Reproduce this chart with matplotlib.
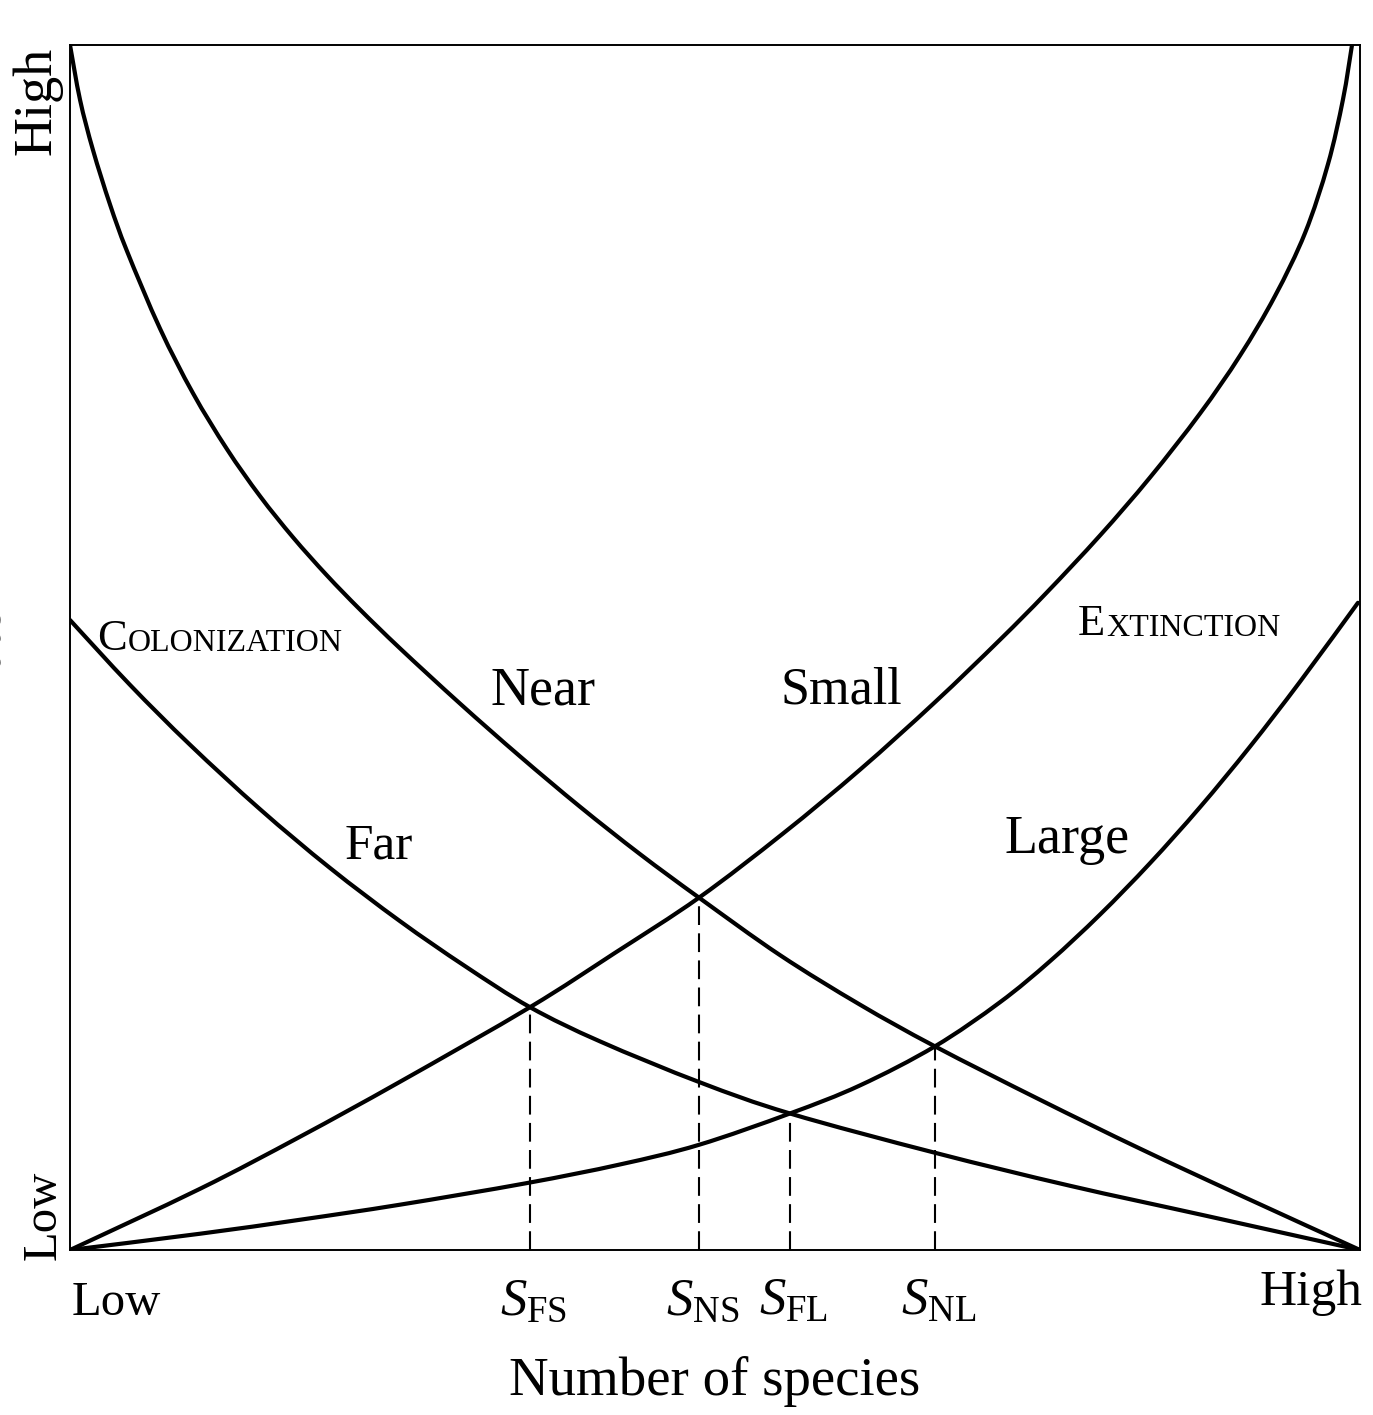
import matplotlib
matplotlib.use("Agg")
import matplotlib.pyplot as plt
from matplotlib.path import Path
from matplotlib.patches import PathPatch
import numpy as np

plt.rcParams['font.family'] = ['Liberation Serif', 'DejaVu Serif']
plt.rcParams['mathtext.fontset'] = 'custom'
plt.rcParams['mathtext.rm'] = 'Liberation Serif'
plt.rcParams['mathtext.it'] = 'Liberation Serif:italic'
plt.rcParams['mathtext.bf'] = 'Liberation Serif:bold'

# ---------------- data (x: number of species 0..100, y: rate 0..100) ----------------
near_x = [0, 0.78, 1.78, 3.10, 4.42, 6.98, 9.53, 12.17, 14.73, 17.29, 19.92, 22.48, 25.58,
          30.23, 34.88, 39.53, 44.19, 48.76, 55.04, 61.24, 67.05, 75.19, 82.95, 90.70, 100]
near_y = [100, 95.44, 91.29, 86.77, 82.89, 76.46, 71.11, 66.46, 62.56, 59.14, 55.98, 53.15, 49.93,
          45.35, 40.97, 36.79, 32.85, 29.24, 24.47, 20.36, 16.90, 12.47, 8.41, 4.55, 0]

far_x = [0, 4.65, 9.30, 14.73, 20.16, 25.58, 30.62, 35.66, 41.09, 48.84, 55.81, 67.05, 77.52, 87.98, 100]
far_y = [52.28, 46.90, 41.93, 36.58, 31.70, 27.29, 23.56, 20.15, 17.31, 13.91, 11.33, 8.07, 5.33, 2.86, 0]

small_x = [0, 10.08, 17.83, 25.58, 35.66, 42.25, 48.76, 55.27, 61.24, 67.05, 72.09, 75.66, 79.84,
           83.72, 87.60, 90.70, 93.41, 95.74, 97.52, 98.68, 99.38]
small_y = [0, 5.08, 9.40, 13.96, 20.15, 24.66, 29.24, 34.56, 39.86, 45.46, 50.64, 54.50, 59.29,
           64.11, 69.42, 74.23, 79.17, 84.40, 90.12, 95.48, 100]

large_x = [0, 10.08, 17.83, 25.58, 35.35, 42.64, 48.76, 55.81, 61.24, 67.05, 72.09, 75.97, 79.84,
           83.72, 87.60, 91.47, 95.35, 99.84]
large_y = [0, 1.35, 2.51, 3.76, 5.54, 7.10, 8.73, 11.33, 13.66, 16.90, 20.56, 23.97, 27.83,
           32.10, 36.75, 41.77, 47.16, 53.71]

eq_names = ["FS", "NS", "FL", "NL"]
eq_x = [35.66, 48.76, 55.81, 67.05]
eq_curve = ["small", "small", "large", "large"]

curve_labels = ["Near", "Small", "Far", "Large"]
curve_label_pos = [(32.56, 45.23), (55.04, 45.39), (21.32, 32.53), (72.48, 32.95)]

W, H = 1373, 1415
fig = plt.figure(figsize=(W / 100, H / 100), dpi=100)
ax = fig.add_axes([70 / W, 1 - 1250 / H, 1290 / W, 1205 / H])
ax.set_xlim(0, 100)
ax.set_ylim(0, 100)
ax.set_xticks([])
ax.set_yticks([])
for s in ax.spines.values():
    s.set_linewidth(1.4)
    s.set_color('black')


def smooth_path(xs, ys):
    """Smooth Bezier path through the read points (Catmull-Rom style controls)."""
    p = np.column_stack([xs, ys]).astype(float)
    n = len(p)
    verts = [p[0]]
    codes = [Path.MOVETO]
    for i in range(n - 1):
        p0 = p[i - 1] if i > 0 else p[i]
        p1 = p[i]
        p2 = p[i + 1]
        p3 = p[i + 2] if i + 2 < n else p[i + 1]
        c1 = p1 + (p2 - p0) / 6.0
        c2 = p2 - (p3 - p1) / 6.0
        verts += [c1, c2, p2]
        codes += [Path.CURVE4] * 3
    return Path(verts, codes)


lw = 3.0
for xs, ys in [(near_x, near_y), (far_x, far_y), (small_x, small_y), (large_x, large_y)]:
    ax.add_patch(PathPatch(smooth_path(xs, ys), facecolor='none', edgecolor='black', lw=lw,
                           capstyle='round', joinstyle='round'))

curves = {"small": (small_x, small_y), "large": (large_x, large_y)}
for name, xv, cv in zip(eq_names, eq_x, eq_curve):
    cx, cy = curves[cv]
    ytop = np.interp(xv, cx, cy)
    ax.plot([xv, xv], [0, ytop], color='black', lw=1.5, dashes=(9, 4))
    ax.text(xv + 0.3, -5.39, r"$S_{\mathrm{%s}}$" % name, fontsize=38, ha='center',
            va='baseline', clip_on=False)

label_sizes = [39, 37.5, 37, 39]
for lab, (lx, ly), fs in zip(curve_labels, curve_label_pos, label_sizes):
    ax.text(lx, ly, lab, fontsize=fs, ha='left', va='baseline')


def small_caps(x, y, first, rest):
    t1 = ax.text(x, y, first, fontsize=32, ha='left', va='baseline')
    ax.annotate(rest, xy=(1, 0), xycoords=t1, xytext=(0.5, 0.6), textcoords='offset points',
                fontsize=23, ha='left', va='bottom')


small_caps(2.09, 49.79, "C", "OLONIZATION")
small_caps(78.14, 51.04, "E", "XTINCTION")

# axis end labels
ax.text(0.16, -5.39, "Low", fontsize=35, ha='left', va='baseline', clip_on=False)
ax.text(100.16, -4.56, "High", fontsize=37, ha='right', va='baseline', clip_on=False)
ax.text(50, -12.03, "Number of species", fontsize=39.5, ha='center', va='baseline', clip_on=False)
ax.text(-0.62, 99.83, "High", fontsize=39, rotation=90, ha='right', va='top', clip_on=False)
ax.text(-0.31, -0.83, "Low", fontsize=35, rotation=90, ha='right', va='bottom', clip_on=False)
ax.text(-4.65, 49.38, "Rate", fontsize=38, rotation=90, ha='right', va='center', clip_on=False)

fig.savefig("out.png", dpi=100)
